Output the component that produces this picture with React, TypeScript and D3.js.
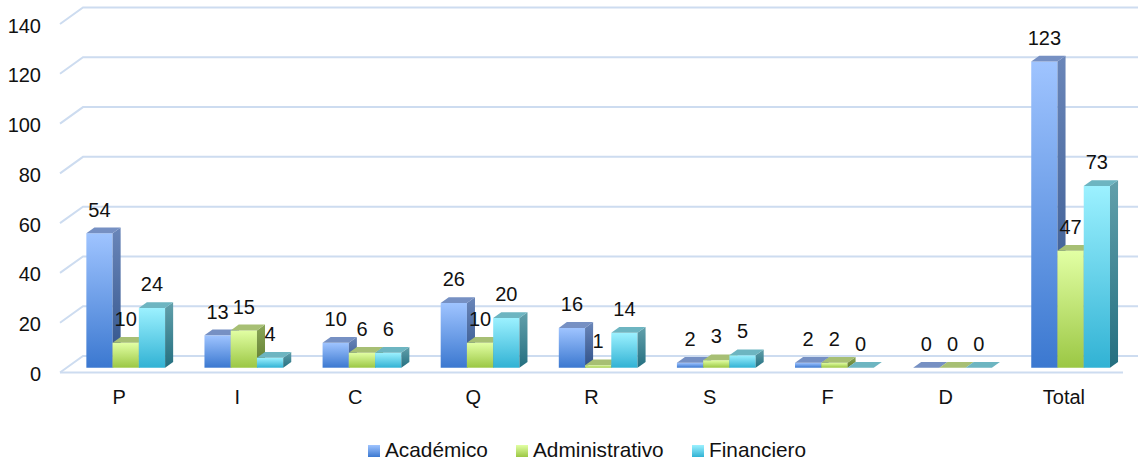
import React from 'react';
import * as d3 from 'd3';

const categories = ['P', 'I', 'C', 'Q', 'R', 'S', 'F', 'D', 'Total'];
const academico = [54, 13, 10, 26, 16, 2, 2, 0, 123];
const administrativo = [10, 15, 6, 10, 1, 3, 2, 0, 47];
const financiero = [24, 4, 6, 20, 14, 5, 0, 0, 73];
const seriesNames = ['Académico', 'Administrativo', 'Financiero'];
const yTicks = [0, 20, 40, 60, 80, 100, 120, 140];

// front gradient (top, bottom), side gradient (top, bottom), top face
const palette = [
  { id: 'aca', front: ['#9fc4ff', '#3b78d0'], side: ['#6a86b9', '#2f5189'], top: '#7690c3' },
  { id: 'adm', front: ['#e2ffa4', '#9bc744'], side: ['#8aa658', '#5f7c2e'], top: '#a7bf74' },
  { id: 'fin', front: ['#9cf1ff', '#31b2d4'], side: ['#62a0ab', '#246f80'], top: '#6db5c1' },
];

const W = 1138, H = 459;
const DX = 23, DY = 16.5;   // depth of the floor
const Z0 = 0.29, Z1 = 0.64; // bar depth inside the floor
const FONT = 'Liberation Sans, Arial, sans-serif';

export default function App() {
  const data = [academico, administrativo, financiero];

  const y = d3.scaleLinear().domain([0, 140]).range([372.5, 24]);
  const x = d3.scaleBand().domain(categories).range([60, 1123]);
  const bw = x.bandwidth();
  // gap width 150%: three bars take 3 of 4.5 bar widths
  const xs = d3.scaleBand().domain(seriesNames).range([bw * 0.75 / 4.5, bw * 3.75 / 4.5]);
  const w = xs.bandwidth();

  const pt = (px: number, py: number, z: number) => `${px + z * DX},${py - z * DY}`;

  const bars: any[] = [];
  categories.forEach((c, ci) => {
    seriesNames.forEach((s, si) => {
      const v = data[si][ci];
      const x0 = (x(c) as number) + (xs(s) as number);
      const x1 = x0 + w;
      const yv = y(v), y0 = y(0);
      const p = palette[si];
      bars.push(
        <g key={c + s}>
          <polygon points={[pt(x0, yv, Z0), pt(x1, yv, Z0), pt(x1, y0, Z0), pt(x0, y0, Z0)].join(' ')}
            fill={`url(#front-${p.id})`} />
          <polygon points={[pt(x1, yv, Z0), pt(x1, yv, Z1), pt(x1, y0, Z1), pt(x1, y0, Z0)].join(' ')}
            fill={`url(#side-${p.id})`} />
          <polygon points={[pt(x0, yv, Z0), pt(x1, yv, Z0), pt(x1, yv, Z1), pt(x0, yv, Z1)].join(' ')}
            fill={p.top} />
        </g>
      );
    });
  });

  const labels: any[] = [];
  categories.forEach((c, ci) => {
    seriesNames.forEach((s, si) => {
      const v = data[si][ci];
      const x0 = (x(c) as number) + (xs(s) as number);
      labels.push(
        <text key={'l' + c + s} x={x0 + w / 2 + Z0 * DX} y={y(v) - Z1 * DY - 11}
          textAnchor="middle" fontSize={20} fill="#111">{v}</text>
      );
    });
  });

  const legendX = [368, 516, 692];

  return (
    <svg width={W} height={H} style={{ position: 'absolute', left: 0, top: 0, fontFamily: FONT }}>
      <defs>
        {palette.map(p => (
          <React.Fragment key={p.id}>
            <linearGradient id={`front-${p.id}`} x1="0" y1="0" x2="0" y2="1">
              <stop offset="0" stopColor={p.front[0]} />
              <stop offset="1" stopColor={p.front[1]} />
            </linearGradient>
            <linearGradient id={`side-${p.id}`} x1="0" y1="0" x2="0" y2="1">
              <stop offset="0" stopColor={p.side[0]} />
              <stop offset="1" stopColor={p.side[1]} />
            </linearGradient>
          </React.Fragment>
        ))}
      </defs>
      <rect width={W} height={H} fill="#fff" />

      {/* walls: gridlines on the side and back */}
      <g stroke="#cddcf0" strokeWidth={2} fill="none">
        {yTicks.map(t => (
          <polyline key={t}
            points={`${60},${y(t)} ${60 + DX},${y(t) - DY} ${1123 + DX},${y(t) - DY}`} />
        ))}
        <line x1={60} x2={1123} y1={y(0)} y2={y(0)} />
      </g>

      {yTicks.map(t => (
        <text key={'t' + t} x={41} y={y(t) + 8.5} textAnchor="end" fontSize={20} fill="#111">{t}</text>
      ))}

      {bars}
      {labels}

      {categories.map(c => (
        <text key={'c' + c} x={(x(c) as number) + bw / 2} y={404} textAnchor="middle"
          fontSize={20} fill="#111">{c}</text>
      ))}

      {seriesNames.map((s, i) => (
        <g key={'lg' + s}>
          <rect x={legendX[i]} y={445} width={12} height={12} fill={`url(#front-${palette[i].id})`} />
          <text x={legendX[i] + 17} y={456.5} fontSize={20.8} fill="#111">{s}</text>
        </g>
      ))}
    </svg>
  );
}
